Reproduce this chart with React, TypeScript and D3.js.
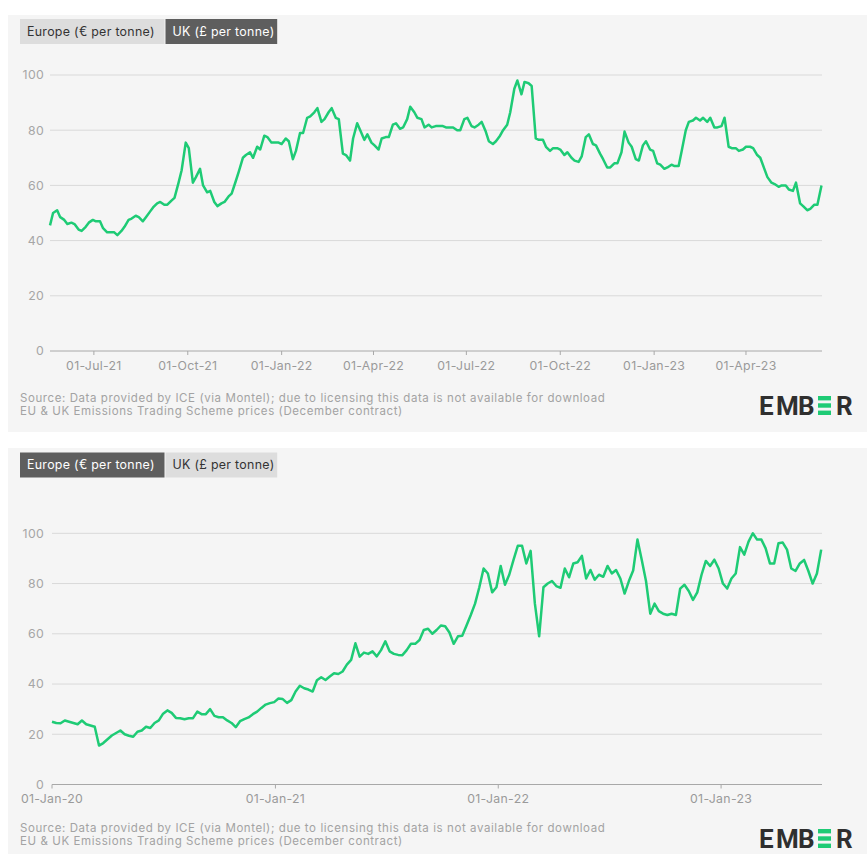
import React from "react";
import * as d3 from "d3";

// UK ETS (£ per tonne), December contract
const ukSeries: [string, number][] = [
  ["2021-05-19",45.5],["2021-05-22",50],["2021-05-26",51],["2021-05-29",48.5],
  ["2021-06-02",47.5],["2021-06-05",46],["2021-06-09",46.5],["2021-06-12",46],["2021-06-16",44],["2021-06-19",43.5],["2021-06-23",45],["2021-06-26",46.5],["2021-06-30",47.5],
  ["2021-07-03",47],["2021-07-07",47],["2021-07-10",44.5],["2021-07-14",43],["2021-07-17",43],["2021-07-21",43],["2021-07-24",42],["2021-07-28",43.5],["2021-07-31",45],
  ["2021-08-04",47.5],["2021-08-07",48],["2021-08-11",49],["2021-08-14",48.5],["2021-08-18",47],["2021-08-21",48.5],["2021-08-25",50.5],["2021-08-28",52],
  ["2021-09-01",53.5],["2021-09-04",54],["2021-09-08",53],["2021-09-11",53],["2021-09-15",54.5],["2021-09-18",55.5],["2021-09-22",61],["2021-09-25",65.5],["2021-09-29",75.5],
  ["2021-10-02",73.5],["2021-10-06",61],["2021-10-09",63],["2021-10-13",66],["2021-10-16",60],["2021-10-20",57.5],["2021-10-23",58],["2021-10-27",54],["2021-10-30",52.5],
  ["2021-11-03",53.5],["2021-11-06",54],["2021-11-10",56],["2021-11-13",57],["2021-11-17",61.5],["2021-11-20",65],["2021-11-24",70],["2021-11-27",71],
  ["2021-12-01",72],["2021-12-04",70],["2021-12-08",74],["2021-12-11",73],["2021-12-15",78],["2021-12-18",77.5],["2021-12-22",75.5],["2021-12-25",75.5],["2021-12-29",75.5],
  ["2022-01-01",75],["2022-01-05",77],["2022-01-08",76],["2022-01-12",69.5],["2022-01-15",72.5],["2022-01-19",79],["2022-01-22",79],["2022-01-26",84.5],["2022-01-29",85],
  ["2022-02-02",86.5],["2022-02-05",88],["2022-02-09",83],["2022-02-12",84],["2022-02-16",86.5],["2022-02-19",88],["2022-02-23",84.5],["2022-02-26",84],
  ["2022-03-02",71.5],["2022-03-05",71],["2022-03-09",69],["2022-03-12",77],["2022-03-16",82.5],["2022-03-19",80],["2022-03-23",76.5],["2022-03-26",78.5],["2022-03-30",75.5],
  ["2022-04-02",74.5],["2022-04-06",73],["2022-04-09",77],["2022-04-13",77.5],["2022-04-16",77.5],["2022-04-20",82],["2022-04-23",82.5],["2022-04-27",80.5],["2022-04-30",81],
  ["2022-05-04",84],["2022-05-07",88.5],["2022-05-11",86.5],["2022-05-14",84.5],["2022-05-18",84],["2022-05-21",81],["2022-05-25",82],["2022-05-28",81],
  ["2022-06-01",81.5],["2022-06-04",81.5],["2022-06-08",81.5],["2022-06-11",81],["2022-06-15",81],["2022-06-18",81],["2022-06-22",80],["2022-06-25",80],["2022-06-29",84],
  ["2022-07-02",84.5],["2022-07-06",81.5],["2022-07-09",81],["2022-07-13",82],["2022-07-16",83],["2022-07-20",79.5],["2022-07-23",76],["2022-07-27",75],["2022-07-30",76],
  ["2022-08-03",78],["2022-08-06",80],["2022-08-10",82],["2022-08-13",86.5],["2022-08-17",95],["2022-08-20",98],["2022-08-24",93],["2022-08-27",97.5],["2022-08-31",97],
  ["2022-09-03",96],["2022-09-07",77],["2022-09-10",76.5],["2022-09-14",76.5],["2022-09-17",74],["2022-09-21",72.5],["2022-09-24",73.5],["2022-09-28",73.5],
  ["2022-10-01",73],["2022-10-05",71],["2022-10-08",72],["2022-10-12",70],["2022-10-15",69],["2022-10-19",68.5],["2022-10-22",70.5],["2022-10-26",77.5],["2022-10-29",78.5],
  ["2022-11-02",75],["2022-11-05",74.5],["2022-11-09",71.5],["2022-11-12",69.5],["2022-11-16",66.5],["2022-11-19",66.5],["2022-11-23",68],["2022-11-26",68],["2022-11-30",72],
  ["2022-12-03",79.5],["2022-12-07",75.5],["2022-12-10",74],["2022-12-14",69.5],["2022-12-17",69],["2022-12-21",74.5],["2022-12-24",76],["2022-12-28",73],["2022-12-31",72.5],
  ["2023-01-04",68],["2023-01-07",67.5],["2023-01-11",66],["2023-01-14",66.5],["2023-01-18",67.5],["2023-01-21",67],["2023-01-25",67],["2023-01-28",72.5],
  ["2023-02-01",80],["2023-02-04",83],["2023-02-08",83.5],["2023-02-11",84.5],["2023-02-15",83.5],["2023-02-18",84.5],["2023-02-22",83],["2023-02-25",84.5],
  ["2023-03-01",81],["2023-03-04",81],["2023-03-08",81.5],["2023-03-11",84.5],["2023-03-15",74],["2023-03-18",73.5],["2023-03-22",73.5],["2023-03-25",72.5],["2023-03-29",73],
  ["2023-04-01",74],["2023-04-05",74],["2023-04-08",73.5],["2023-04-12",71],["2023-04-15",70],["2023-04-19",66],["2023-04-22",63],["2023-04-26",61],["2023-04-29",60.5],
  ["2023-05-03",59.5],["2023-05-06",60],["2023-05-10",60],["2023-05-13",58.5],["2023-05-17",58],["2023-05-20",61],["2023-05-24",53.5],["2023-05-27",52.5],["2023-05-31",51],
  ["2023-06-03",51.5],["2023-06-07",53],["2023-06-10",53],["2023-06-14",60],
];

// EU ETS (€ per tonne), December contract, weekly
const euSeries: [string, number][] = [
  ["2020-01-01",25],["2020-01-08",24.5],["2020-01-15",24.4],["2020-01-22",25.5],["2020-01-29",25],
  ["2020-02-05",24.5],["2020-02-12",24],["2020-02-19",25.5],["2020-02-26",24],
  ["2020-03-04",23.5],["2020-03-11",23],["2020-03-18",15.5],["2020-03-25",16.5],
  ["2020-04-01",18],["2020-04-08",19.5],["2020-04-15",20.5],["2020-04-22",21.5],["2020-04-29",20],
  ["2020-05-06",19.4],["2020-05-13",19],["2020-05-20",21],["2020-05-27",21.5],
  ["2020-06-03",23],["2020-06-10",22.5],["2020-06-17",24.5],["2020-06-24",25.5],
  ["2020-07-01",28.2],["2020-07-08",29.5],["2020-07-15",28.5],["2020-07-22",26.5],["2020-07-29",26.4],
  ["2020-08-05",26],["2020-08-12",26.4],["2020-08-19",26.4],["2020-08-26",29],
  ["2020-09-02",28],["2020-09-09",28],["2020-09-16",30],["2020-09-23",27.3],["2020-09-30",26.8],
  ["2020-10-07",26.8],["2020-10-14",25.5],["2020-10-21",24.5],["2020-10-28",22.8],
  ["2020-11-04",25.2],["2020-11-11",26],["2020-11-18",26.7],["2020-11-25",28],
  ["2020-12-02",29],["2020-12-09",30.5],["2020-12-16",31.8],["2020-12-23",32.4],["2020-12-30",32.8],
  ["2021-01-06",34.2],["2021-01-13",34],["2021-01-20",32.5],["2021-01-27",33.6],
  ["2021-02-03",37],["2021-02-10",39.3],["2021-02-17",38.3],["2021-02-24",37.8],
  ["2021-03-03",37],["2021-03-10",41.5],["2021-03-17",42.7],["2021-03-24",41.6],["2021-03-31",43],
  ["2021-04-07",44.3],["2021-04-14",44],["2021-04-21",45],["2021-04-28",47.7],
  ["2021-05-05",49.6],["2021-05-12",56.2],["2021-05-19",50.9],["2021-05-26",52.5],
  ["2021-06-02",52],["2021-06-09",53],["2021-06-16",51],["2021-06-23",53.5],["2021-06-30",57],
  ["2021-07-07",53],["2021-07-14",52],["2021-07-21",51.6],["2021-07-28",51.5],
  ["2021-08-04",53.5],["2021-08-11",56],["2021-08-18",56],["2021-08-25",57.5],
  ["2021-09-01",61.5],["2021-09-08",62],["2021-09-15",60],["2021-09-22",61.5],["2021-09-29",63.3],
  ["2021-10-06",63],["2021-10-13",60.5],["2021-10-20",56],["2021-10-27",59],
  ["2021-11-03",59.2],["2021-11-10",63.3],["2021-11-17",67.5],["2021-11-24",72],
  ["2021-12-01",78.5],["2021-12-08",86],["2021-12-15",84],["2021-12-22",76.5],["2021-12-29",78.5],
  ["2022-01-05",87],["2022-01-12",79.5],["2022-01-19",83.5],["2022-01-26",89.4],
  ["2022-02-02",95],["2022-02-09",95],["2022-02-16",88],["2022-02-23",93],
  ["2022-03-02",72],["2022-03-09",59],["2022-03-16",78.5],["2022-03-23",80],["2022-03-30",81],
  ["2022-04-06",79],["2022-04-13",78.3],["2022-04-20",86],["2022-04-27",82.5],
  ["2022-05-04",88],["2022-05-11",88.5],["2022-05-18",91],["2022-05-25",82],
  ["2022-06-01",85.4],["2022-06-08",81.5],["2022-06-15",83.5],["2022-06-22",82.7],["2022-06-29",87],
  ["2022-07-06",84],["2022-07-13",85.4],["2022-07-20",82],["2022-07-27",76],
  ["2022-08-03",81],["2022-08-10",85.2],["2022-08-17",97.5],["2022-08-24",89.5],["2022-08-31",81],
  ["2022-09-07",68],["2022-09-14",72],["2022-09-21",69],["2022-09-28",68],
  ["2022-10-05",67.5],["2022-10-12",68],["2022-10-19",67.5],["2022-10-26",78],
  ["2022-11-02",79.5],["2022-11-09",77],["2022-11-16",73.5],["2022-11-23",76.5],["2022-11-30",83.5],
  ["2022-12-07",89],["2022-12-14",87],["2022-12-21",89.5],["2022-12-28",86],
  ["2023-01-04",80],["2023-01-11",78],["2023-01-18",82],["2023-01-25",84],
  ["2023-02-01",94.5],["2023-02-08",91.5],["2023-02-15",96.7],["2023-02-22",100],
  ["2023-03-01",97.5],["2023-03-08",97.5],["2023-03-15",94],["2023-03-22",88],["2023-03-29",88],
  ["2023-04-05",96],["2023-04-12",96.3],["2023-04-19",93.5],["2023-04-26",86],
  ["2023-05-03",85],["2023-05-10",88],["2023-05-17",89.4],["2023-05-24",85],["2023-05-31",80],
  ["2023-06-07",84],["2023-06-14",93.5],
];

const yTicks = [0, 20, 40, 60, 80, 100];
const ukTickDates = ["2021-07-01","2021-10-01","2022-01-01","2022-04-01","2022-07-01","2022-10-01","2023-01-01","2023-04-01"];
const euTickDates = ["2020-01-01","2021-01-01","2022-01-01","2023-01-01"];
const tabLabels = ["Europe (€ per tonne)", "UK (£ per tonne)"];
const sourceLines = [
  "Source: Data provided by ICE (via Montel); due to licensing this data is not available for download",
  "EU & UK Emissions Trading Scheme prices (December contract)",
];

const FONT = "Inter, 'Open Sans', sans-serif";
const GREEN = "#1ecb75";
const parse = d3.timeParse("%Y-%m-%d");
const fmt = d3.timeFormat("%d-%b-%y");

type PanelProps = {
  panelY: number; panelH: number; tabY: number; active: number;
  series: [string, number][]; tickDates: string[];
  gridLeft: number; gridRight: number; lineLeft: number; lineRight: number;
  yZero: number; yHundred: number; xLabelY: number; srcY: number; logoY: number;
};

function Logo({ x, y }: { x: number; y: number }) {
  const st = { fontFamily: "Roboto, sans-serif", fontWeight: 700, fontSize: 26, fill: "#2f2f2f" } as const;
  const capTop = y - 19;
  const bh = 4.4;
  return (
    <g>
      <text x={x} y={y} style={st}>E</text>
      <text x={x + 17} y={y} style={st}>M</text>
      <text x={x + 39} y={y} style={st}>B</text>
      <rect x={x + 59} y={capTop} width={13} height={bh} fill={GREEN} />
      <rect x={x + 59} y={capTop + 7.3} width={13} height={bh} fill={GREEN} />
      <rect x={x + 59} y={y - bh} width={13} height={bh} fill={GREEN} />
      <text x={x + 77} y={y} style={st}>R</text>
    </g>
  );
}

const txt = (size: number, fill: string, ls = 0.3) => ({ fontFamily: FONT, fontSize: size, letterSpacing: ls, fill });

function Panel(p: PanelProps) {
  const data = p.series.map(([d, v]) => ({ date: parse(d) as Date, value: v }));
  const ext = d3.extent(data, (d) => d.date) as [Date, Date];
  const x = d3.scaleTime().domain(ext).range([p.lineLeft, p.lineRight]);
  const y = d3.scaleLinear().domain([0, 100]).range([p.yZero, p.yHundred]);
  const line = d3.line<{ date: Date; value: number }>().x((d) => x(d.date)).y((d) => y(d.value));
  const tabW = [144.5, 111.7];
  const tabX = [20, 165.5];
  return (
    <g>
      <rect x={8} y={p.panelY} width={859} height={p.panelH} fill="#f5f5f5" />
      {tabLabels.map((t, i) => (
        <g key={t}>
          <rect x={tabX[i]} y={p.tabY} width={tabW[i]} height={25} fill={i === p.active ? "#5e5e5e" : "#dddddd"} />
          <text x={tabX[i] + 7} y={p.tabY + 16.8} style={txt(12.4, i === p.active ? "#ffffff" : "#333333")}>{t}</text>
        </g>
      ))}
      {yTicks.map((t) => (
        <g key={t}>
          {t > 0 && <line x1={p.gridLeft} x2={p.gridRight} y1={y(t)} y2={y(t)} stroke="#d9d9d9" strokeWidth={1} />}
          <text x={44} y={y(t)} dy="0.35em" textAnchor="end" style={txt(12.3, "#a6a6a6")}>{t}</text>
        </g>
      ))}
      <line x1={p.gridLeft} x2={p.gridRight} y1={p.yZero} y2={p.yZero} stroke="#a8a8a8" strokeWidth={1} />
      {p.tickDates.map((s) => {
        const d = parse(s) as Date;
        const xx = x(d);
        return (
          <g key={s}>
            <line x1={xx} x2={xx} y1={p.yZero} y2={p.yZero + 4} stroke="#a8a8a8" />
            <text x={xx} y={p.xLabelY} textAnchor="middle" style={txt(12.3, "#9a9a9a")}>{fmt(d)}</text>
          </g>
        );
      })}
      <path d={line(data) || ""} fill="none" stroke={GREEN} strokeWidth={2.5} strokeLinejoin="round" />
      {sourceLines.map((s, i) => (
        <text key={s} x={20} y={p.srcY + i * 13.6} style={txt(11.5, "#a3a3a3", 0.58)}>{s}</text>
      ))}
      <Logo x={759} y={p.logoY} />
    </g>
  );
}

export default function App() {
  return (
    <svg width={867} height={854} style={{ position: "absolute", left: 0, top: 0, background: "#ffffff" }}>
      <rect x={0} y={0} width={867} height={854} fill="#ffffff" />
      <Panel panelY={15} panelH={417} tabY={19} active={1} series={ukSeries} tickDates={ukTickDates}
        gridLeft={50} gridRight={822} lineLeft={50} lineRight={821.5}
        yZero={351} yHundred={75} xLabelY={370} srcY={401.5} logoY={415} />
      <Panel panelY={448} panelH={406} tabY={452.5} active={0} series={euSeries} tickDates={euTickDates}
        gridLeft={52} gridRight={822} lineLeft={52} lineRight={821.2}
        yZero={784.5} yHundred={533.3} xLabelY={803} srcY={831.5} logoY={848} />
    </svg>
  );
}
